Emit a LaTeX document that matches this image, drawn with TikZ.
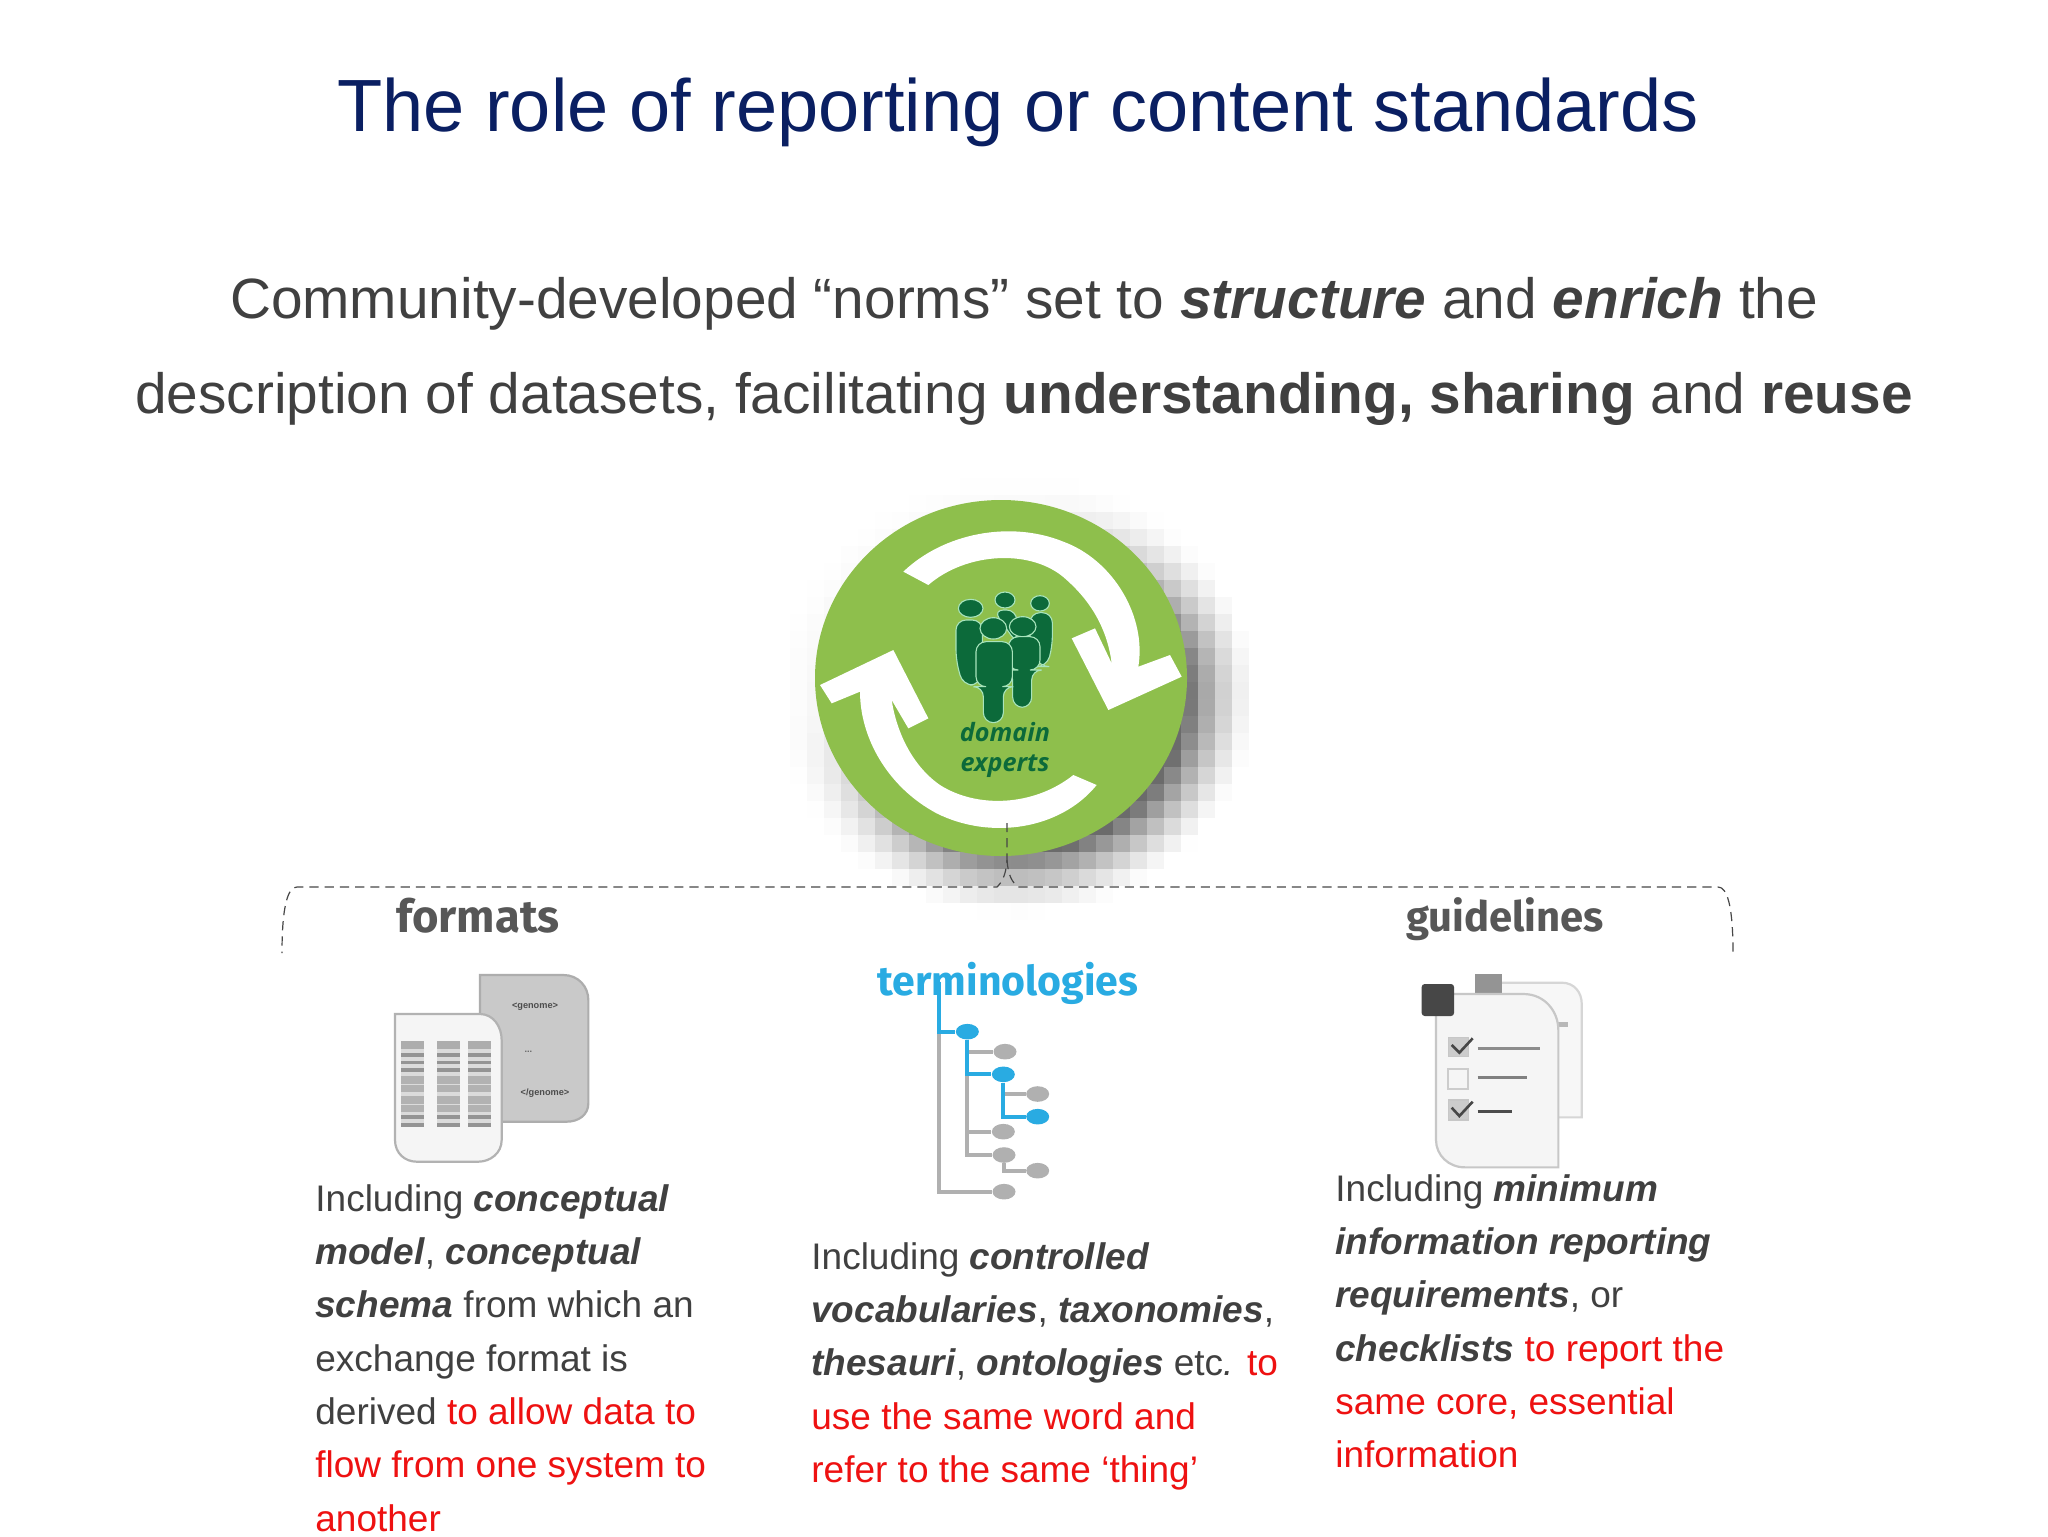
\documentclass[tikz,border=0pt]{standalone}
\usepackage{fontspec}
\setmainfont{Liberation Sans}
\newfontfamily\labelfont{Fira Sans}
\newfontfamily\logofont{Open Sans}
\usetikzlibrary{shapes.geometric}
\definecolor{navy}{HTML}{0A1F62}
\definecolor{bodygray}{HTML}{404040}
\definecolor{redtxt}{HTML}{EE1111}
\definecolor{ballgreen}{HTML}{8EBF4C}
\definecolor{pgreen}{HTML}{0C6A3A}
\definecolor{plight}{HTML}{A8E4BC}
\definecolor{tblue}{HTML}{29ABE2}
\definecolor{tgray}{HTML}{B0B0B0}
\newcommand{\rd}[1]{\textcolor{redtxt}{#1}}
\newcommand{\bi}[1]{\textbf{\textit{#1}}}
% hx hy hrx hry bx1 bx2 top shoulder rest-of-outline
\newcommand{\personfig}[9]{%
  \fill[pgreen,draw=plight,line width=0.55pt] (#1,#2) ellipse [x radius=#3,y radius=#4];
  \fill[pgreen,draw=plight,line width=0.55pt,rounded corners=5pt]
    (#5,#7) -- (#6,#7) -- (#6,#8) -- (#9) -- cycle;}
\tikzset{
  titletext/.style={font=\fontsize{37}{40}\selectfont,text=navy,inner sep=0},
  leadtext/.style={font=\fontsize{28.4}{34}\selectfont,text=bodygray,inner sep=0},
  coltext/.style={font=\fontsize{18.5}{26.65}\selectfont,text=bodygray,inner sep=0,anchor=north west,align=left},
  catlabel/.style={font=\labelfont\fontsize{22.7}{26}\selectfont\bfseries,text=black!66,inner sep=0},
  dashline/.style={draw=black!72,line width=0.6pt,dash pattern=on 4.6pt off 3pt},
  tnode/.style={ellipse,minimum width=11.5pt,minimum height=7.8pt,inner sep=0},
  tgnode/.style={tnode,fill=tgray},
  tbnode/.style={tnode,fill=tblue},
  tgline/.style={draw=tgray,line width=2.1pt},
  tbline/.style={draw=tblue,line width=2.1pt},
  docfront/.style={fill=black!4,draw=black!26,line width=1.1pt},
}
\begin{document}
\begin{tikzpicture}[x=0.5pt,y=-0.5pt]
\useasboundingbox (0,0) rectangle (2048,1536);
\fill[white] (0,0) rectangle (2048,1536);

% title and lead
\node[titletext] (title) at (1018,112.5) {The role of reporting or content standards};
\node[leadtext] (lead1) at (1024,304) {Community-developed “norms” set to \bi{structure} and \bi{enrich} the};
\node[leadtext] (lead2) at (1024,399) {description of datasets, facilitating \textbf{understanding, sharing} and \textbf{reuse}};

% pixelated shadow of the ball
\foreach \i in {0,...,27}{\foreach \j in {0,...,27}{%
  \pgfmathsetmacro{\px}{790+17*\i}%
  \pgfmathsetmacro{\py}{478+17*\j}%
  \pgfmathsetmacro{\ddx}{(\px+8-1015)/100}%
  \pgfmathsetmacro{\ddy}{1.095*(\py+8-695)/100}%
  \pgfmathsetmacro{\dd}{100*sqrt(\ddx*\ddx+\ddy*\ddy)+0.01}%
  \pgfmathsetmacro{\al}{max(0,min(1,(240-\dd)/70))}%
  \pgfmathsetmacro{\fa}{max(0.12,min(1,0.62+0.55*100*(\ddx+\ddy)/\dd))}%
  \pgfmathsetmacro{\vv}{58*\fa*\al*sqrt(\al)}%
  \fill[black!\vv] (\px,\py) rectangle +(17.4,17.4);
}}

% ball
\node[ellipse,fill=ballgreen,minimum width=186pt,minimum height=178pt,inner sep=0] (ball) at (1001,678) {};

\begin{scope}[shift={(780,470)},x=0.16667pt,y=-0.16667pt]
  % upper arrow
  \fill[white] (445,345) .. controls (560,245) and (760,235) .. (860,330)
     .. controls (950,410) and (985,500) .. (995,580)
     -- (945,475) -- (875,505) -- (985,720) -- (1205,620) -- (1170,555) -- (1075,590)
     .. controls (1100,440) and (1000,270) .. (850,215)
     .. controls (690,150) and (490,190) .. (370,305) -- cycle;
  % lower arrow
  \fill[white] (880,915) .. controls (760,1010) and (590,1015) .. (480,945)
     .. controls (400,890) and (350,790) .. (335,690)
     -- (385,775) -- (445,745) -- (340,540) -- (120,645) -- (155,700) -- (240,665)
     .. controls (240,800) and (320,950) .. (470,1030)
     .. controls (630,1110) and (840,1080) .. (950,945) -- cycle;
  % people
  \personfig{572}{415}{37}{27}{528}{607}{450}{570}{600,645) -- (548,645) -- (528,570}
  \personfig{675}{390}{30}{24}{640}{710}{420}{520}{710,520}
  \personfig{780}{400}{28}{23}{750}{817}{428}{530}{800,590) -- (778,590) -- (750,530}
  \personfig{728}{470}{40}{30}{685}{780}{500}{600}{755,600) -- (755,712) -- (698,712) -- (698,600) -- (685,600}
  \personfig{640}{475}{40}{32}{588}{697}{515}{650}{670,650) -- (670,758) -- (610,758) -- (610,650) -- (588,650}
\end{scope}
\node[inner sep=0,text=pgreen,align=center,font=\logofont\fontsize{12.6}{15}\selectfont\bfseries\itshape] (domain) at (1005,750) {domain\\[-0.2pt]experts};

% dashed bracket
\coordinate (stem) at (1007,823);
\coordinate (flank) at (1007,860);
\coordinate (brL) at (282,953);
\coordinate (brR) at (1733,953);
\draw[dashline] (stem) -- (flank) .. controls (1006,875) and (1002,882) .. (997,887)
   -- (297,887) .. controls (288,887) and (282,905) .. (brL);
\draw[dashline] (flank) .. controls (1008,875) and (1012,882) .. (1018,887)
   -- (1718,887) .. controls (1727,887) and (1733,905) .. (brR);

% category labels
\node[catlabel] (lformats) at (478,916) {formats};
\node[catlabel,font=\labelfont\fontsize{20.9}{26}\selectfont\bfseries] (lguide) at (1505,919) {guidelines};
\node[catlabel,text=tblue,font=\labelfont\fontsize{20.5}{26}\selectfont\bfseries] (lterm) at (1008,983) {terminologies};

% formats icon
\begin{scope}[shift={(270,860)},x=0.16667pt,y=-0.16667pt]
  \filldraw[fill=black!21,draw=black!32,line width=1.1pt] (630,345) -- (880,345)
     .. controls (925,345) and (955,380) .. (955,420) -- (955,730)
     .. controls (955,765) and (925,785) .. (890,785) -- (630,785) -- cycle;
  \node[inner sep=0,font=\fontsize{4.6}{5}\selectfont\bfseries,text=black!70] (fg1) at (795,440) {<genome>};
  \node[inner sep=0,font=\fontsize{4.6}{5}\selectfont\bfseries,text=black!60] (fg2) at (775,575) {...};
  \filldraw[docfront,draw=black!30] (375,462) -- (630,462)
     .. controls (670,462) and (695,500) .. (695,540) -- (695,840)
     .. controls (695,880) and (660,905) .. (625,905) -- (440,905)
     .. controls (405,905) and (375,880) .. (375,840) -- cycle;
  \node[inner sep=0,font=\fontsize{4.6}{5}\selectfont\bfseries,text=black!70] (fg3) at (825,700) {</genome>};
  \foreach \cx in {393,500,593}{
    \fill[black!14] (\cx,543) rectangle (\cx+70,802);
    \foreach \ya/\yb/\sh in {543/568/32,578/590/42,602/612/42,625/637/42,648/672/30,675/695/30,708/732/30,735/755/30,766/778/42,790/802/42}{
      \fill[black!\sh] (\cx,\ya) rectangle (\cx+70,\yb);
    }
  }
\end{scope}

% terminologies tree
\begin{scope}[shift={(860,940)},x=0.16667pt,y=-0.16667pt]
  \coordinate (troot) at (238,125);
  \coordinate (tbend) at (238,280);
  \node[tgnode] (tb) at (435,335) {};
  \node[tgnode] (td) at (533,462) {};
  \node[tgnode] (tf) at (430,575) {};
  \node[tgnode] (tg) at (432,645) {};
  \node[tgnode] (th) at (533,692) {};
  \node[tgnode] (ti) at (432,755) {};
  \node[tbnode] (ta) at (322,275) {};
  \node[tbnode] (tc) at (430,403) {};
  \node[tbnode] (te) at (533,530) {};
  \draw[tgline] (tbend) |- (ti);
  \draw[tgline] (ta) |- (tb);
  \draw[tgline] (ta) |- (tg);
  \draw[tgline] (ta) |- (tf);
  \draw[tgline] (tg) |- (th);
  \draw[tgline] (tc) |- (td);
  \draw[tbline] (troot) |- (ta);
  \draw[tbline] (ta) |- (tc);
  \draw[tbline] (tc) |- (te);
\end{scope}

% guidelines icon
\begin{scope}[shift={(1380,880)},x=0.16667pt,y=-0.16667pt]
  \filldraw[fill=black!3,draw=black!16,line width=1.1pt] (360,308) -- (545,308)
     .. controls (585,308) and (605,340) .. (605,370) -- (605,712) -- (360,712) -- cycle;
  \fill[black!42] (285,283) rectangle (365,350);
  \fill[black!28] (520,425) rectangle (565,440);
  \filldraw[fill=black!4,draw=black!22,line width=1.1pt] (168,342) -- (430,342)
     .. controls (495,342) and (535,395) .. (535,450) -- (535,862) -- (255,862)
     .. controls (205,862) and (168,825) .. (168,780) -- cycle;
  \fill[black!72,rounded corners=1.5pt] (125,312) rectangle (222,408);
  \filldraw[fill=black!20,draw=black!22,line width=0.7pt] (205,472) rectangle (265,530);
  \draw[black!72,line width=1.3pt] (215,495) -- (238,518) -- (278,475);
  \draw[black!45,line width=1.6pt] (293,505) -- (480,505);
  \draw[black!20,line width=1.1pt] (203,567) rectangle (265,628);
  \draw[black!50,line width=1.6pt] (293,592) -- (440,592);
  \filldraw[fill=black!20,draw=black!22,line width=0.7pt] (205,660) rectangle (265,720);
  \draw[black!72,line width=1.3pt] (215,683) -- (238,708) -- (278,665);
  \draw[black!70,line width=1.4pt] (293,695) -- (395,695);
\end{scope}

% column texts
\node[coltext] (col1) at (315,1184) {Including \bi{conceptual}\\
\bi{model}, \bi{conceptual}\\
\bi{schema} from which an\\
exchange format is\\
derived \rd{to allow data to}\\
\rd{flow from one system to}\\
\rd{another}};
\node[coltext] (col2) at (811,1242) {Including \bi{controlled}\\
\bi{vocabularies}, \bi{taxonomies},\\
\bi{thesauri}, \bi{ontologies} etc\textit{.} \rd{to}\\
\rd{use the same word and}\\
\rd{refer to the same ‘thing’}};
\node[coltext] (col3) at (1335,1174) {Including \bi{minimum}\\
\bi{information reporting}\\
\bi{requirements}, or\\
\bi{checklists} \rd{to report the}\\
\rd{same core, essential}\\
\rd{information}};
\end{tikzpicture}
\end{document}
